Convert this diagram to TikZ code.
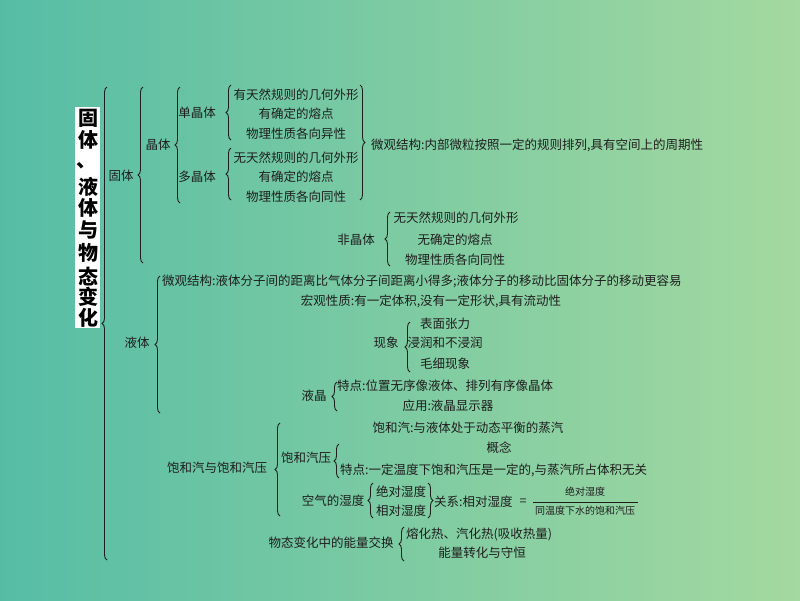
\documentclass[tikz,border=0pt]{standalone}
\usepackage{fontspec}
\setmainfont{Noto Sans CJK SC}
\usetikzlibrary{decorations.pathreplacing}
\definecolor{bgL}{RGB}{86,189,165}
\definecolor{bgR}{RGB}{164,217,160}
\definecolor{ink}{RGB}{30,30,30}
\begin{document}
\begin{tikzpicture}[x=1pt,y=-1pt,
  every node/.style={inner sep=0pt, text=ink, font=\fontsize{12.5}{14}\selectfont},
  small/.style={font=\fontsize{10}{12}\selectfont},
  titlech/.style={font=\fontsize{20}{22}\selectfont\bfseries, text=black},
  brc/.style={decorate, decoration={brace, amplitude=5pt}, draw=ink, line width=0.9pt}]
\fill[left color=bgL, right color=bgR] (0,0) rectangle (800,600);
\useasboundingbox (0,0) rectangle (800,600);
% title
\fill[white] (75,107) rectangle (100,328);
\foreach \c/\y in {固/118,体/140,液/187,体/208,与/230,物/253,态/277,变/297,化/318}
  \node[titlech] (t\y) at (88,\y) {\c};
\node[titlech, anchor=south west] (tdun) at (76,169) {、};
% outer
\draw[brc] (107,560) -- (107,87);
% solid
\node (guti) at (121,176) {固体};
\draw[brc] (143,263) -- (143,87);
\node (jingti) at (158,145) {晶体};
\draw[brc] (180,203) -- (180,87);
\node (danjing) at (197,113) {单晶体};
\draw[brc] (231,140) -- (231,85);
\node (d1) at (296,95) {有天然规则的几何外形};
\node (d2) at (296,114) {有确定的熔点};
\node (d3) at (296,134) {物理性质各向异性};
\node (duojing) at (197,177) {多晶体};
\draw[brc] (231,200) -- (231,148);
\node (p1) at (296,158) {无天然规则的几何外形};
\node (p2) at (296,177) {有确定的熔点};
\node (p3) at (296,197) {物理性质各向同性};
\draw[brc] (360,85) -- (360,200);
\node[anchor=west] (wg1) at (371,145) {微观结构:内部微粒按照一定的规则排列,具有空间上的周期性};
\node (feijing) at (356,240) {非晶体};
\draw[brc] (390,266) -- (390,212);
\node (f1) at (456,218) {无天然规则的几何外形};
\node (f2) at (455,240) {无确定的熔点};
\node (f3) at (455,260) {物理性质各向同性};
% liquid
\node (yeti) at (137,343) {液体};
\draw[brc] (160,413) -- (160,276);
\node[anchor=west] (y1) at (162,281) {微观结构:液体分子间的距离比气体分子间距离小得多;液体分子的移动比固体分子的移动更容易};
\node (y2) at (431,301) {宏观性质:有一定体积,没有一定形状,具有流动性};
\node (xianxiang) at (386,343) {现象};
\draw[brc] (410,372) -- (410,322);
\node (x1) at (445,324) {表面张力};
\node (x2) at (445,343) {浸润和不浸润};
\node (x3) at (445,364) {毛细现象};
\node (yejing) at (314,396) {液晶};
\draw[brc] (337,411) -- (337,382);
\node[anchor=west] (j1) at (337,386) {特点:位置无序像液体、排列有序像晶体};
\node (j2) at (448,406) {应用:液晶显示器};
% saturated vapour
\node (bh) at (217,468) {饱和汽与饱和汽压};
\draw[brc] (280,516) -- (280,423);
\node (b1) at (468,428) {饱和汽:与液体处于动态平衡的蒸汽};
\node (bhq) at (306,458) {饱和汽压};
\draw[brc] (339,478) -- (339,444);
\node (gn) at (499,448) {概念};
\node[anchor=west] (td) at (340,470) {特点:一定温度下饱和汽压是一定的,与蒸汽所占体积无关};
\node (sd) at (333,501) {空气的湿度};
\draw[brc] (373,518) -- (373,483);
\node (jd) at (401,492) {绝对湿度};
\node (xd) at (401,511) {相对湿度};
\draw[brc] (428,483) -- (428,518);
\node[anchor=west] (gx) at (434,502) {关系:相对湿度};
\node (eq) at (523,502) {=};
\node[small] (num) at (585,492) {绝对湿度};
\node[small] (den) at (585,511) {同温度下水的饱和汽压};
\coordinate (barL) at (533,502);
\coordinate (barR) at (638,502);
\draw[ink, line width=0.7pt] (barL) -- (barR);
% energy
\node (nl) at (331,543) {物态变化中的能量交换};
\draw[brc] (404,561) -- (404,527);
\node[anchor=west] (n1) at (406,534) {熔化热、汽化热(吸收热量)};
\node (n2) at (482,553) {能量转化与守恒};
\end{tikzpicture}
\end{document}
